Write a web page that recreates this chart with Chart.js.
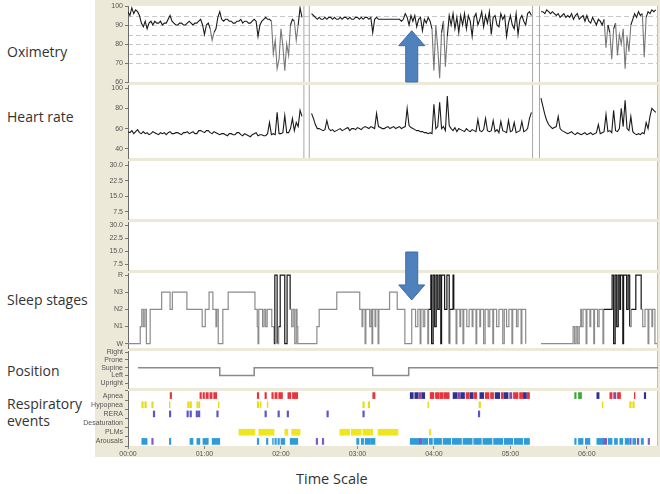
<!DOCTYPE html>
<html>
<head>
<meta charset="utf-8">
<script src="https://cdn.jsdelivr.net/npm/chart.js@4.4.1/dist/chart.umd.min.js"></script>
<style>
  body { margin: 0; width: 660px; height: 494px; overflow: hidden; position: relative; background: #fff; font-family: 'Open Sans', sans-serif; }
  #frame { position: absolute; left: 95px; top: 0; width: 565px; height: 457px; background: #ece9d8; }
  canvas { position: absolute; }
  .lbl { position: absolute; left: 7px; font-size: 14px; line-height: 17px; color: #333; white-space: nowrap; }
</style>
</head>
<body>
<div id="frame"></div>
<div class="lbl" style="top:43px">Oximetry</div>
<div class="lbl" style="top:108px">Heart rate</div>
<div class="lbl" style="top:291px">Sleep stages</div>
<div class="lbl" style="top:362px">Position</div>
<div class="lbl" style="top:395px">Respiratory<br>events</div>
<div class="lbl" style="top:470px;left:296px;font-size:14.5px">Time Scale</div>

<script>
// time axis (hours from lights off)
const hourTicks = [0, 1, 2, 3, 4, 5, 6];
const X_MAX = 6.93;

// oximetry and heart rate, one sample every 0.025 h
const traceStep = 0.025;
const oxiValues = [
  97, 95, 99, 96, 98, 97, 95, 91, 89, 92,
  88, 91, 92, 90, 92, 91, 91, 92, 90, 91,
  91, 93, 95, 92, 91, 90, 90, 91, 91, 90,
  90, 91, 92, 91, 90, 91, 91, 92, 93, 90,
  85, 90, 91, 88, 82, 86, 88, 94, 97, 93,
  92, 93, 93, 92, 92, 91, 91, 92, 92, 93,
  91, 92, 92, 91, 91, 92, 93, 92, 84, 90,
  92, 93, 94, 93, 93, 92, 75, 82, 67, 72,
  88, 79, 66, 80, 74, 90, 93, 92, 82, 90,
  99, 94, null, null, null, null, 96, 95, 94, 93,
  94, 93, 93, 94, 93, 94, 94, 93, 94, 93,
  93, 94, 93, 94, 94, 93, 94, 93, 93, 94,
  94, 93, 94, 93, 94, 94, 93, 94, 86, 93,
  94, 93, 93, 93, 93, 93, 93, 93, 93, 93,
  93, 93, 93, 92, 93, 96, 94, 90, 95, 92,
  95, 89, 93, 94, 87, 93, 91, 94, 92, 88,
  66, 90, 78, 62, 86, 92, 68, 84, 95, 90,
  96, 88, 94, 86, 95, 90, 96, 88, 95, 92,
  84, 94, 96, 90, 93, 97, 89, 95, 91, 97,
  85, 94, 95, 90, 89, 96, 93, 95, 84, 91,
  95, 90, 88, 96, 85, 93, 95, 92, 90, 96,
  97, 95, null, null, null, null, 97, 97, 96, 98,
  97, 96, 97, 96, 95, 96, 94, 95, 96, 94,
  95, 94, 96, 93, 95, 96, 93, 94, 95, 92,
  95, 92, 91, 94, 92, 90, 93, 92, 90, 93,
  78, 90, 86, 72, 88, 91, 74, 85, 80, 88,
  67, 84, 76, 90, 93, 96, 94, 97, 95, 96,
  73, 94, 97, 96, 98, 97, 98
];
const hrValues = [
  57, 56, 58, 55, 57, 59, 56, 55, 57, 55,
  56, 54, 55, 57, 56, 55, 54, 56, 55, 56,
  54, 56, 57, 55, 55, 56, 56, 55, 54, 56,
  56, 57, 55, 56, 57, 55, 55, 58, 58, 57,
  56, 58, 58, 56, 55, 57, 56, 55, 54, 55,
  55, 54, 53, 55, 55, 54, 54, 56, 56, 54,
  53, 55, 54, 53, 52, 54, 55, 56, 53, 54,
  54, 53, 53, 55, 66, 54, 55, 54, 76, 55,
  55, 56, 73, 56, 56, 60, 70, 58, 66, 62,
  78, 72, null, null, null, null, 75, 70, 64, 60,
  60, 59, 58, 59, 68, 60, 58, 59, 57, 58,
  59, 60, 58, 59, 60, 61, 58, 60, 60, 59,
  61, 60, 59, 61, 62, 61, 60, 62, 61, 60,
  75, 62, 61, 60, 60, 61, 62, 60, 61, 62,
  60, 61, 62, 60, 61, 62, 80, 63, 61, 60,
  59, 58, 58, 57, 57, 56, 56, 55, 56, 55,
  84, 60, 62, 86, 60, 62, 58, 92, 63, 60,
  58, 61, 57, 60, 59, 58, 57, 60, 58, 57,
  59, 58, 57, 69, 58, 57, 59, 70, 58, 57,
  58, 68, 57, 59, 56, 67, 58, 57, 56, 68,
  57, 58, 66, 56, 57, 58, 67, 57, 58, 60,
  70, 76, null, null, null, null, 90, 82, 74, 68,
  64, 62, 60, 61, 62, 72, 60, 58, 57, 56,
  55, 56, 57, 55, 54, 56, 55, 54, 55, 56,
  54, 55, 56, 54, 55, 56, 64, 55, 56, 57,
  74, 57, 58, 56, 78, 58, 57, 60, 80, 62,
  88, 60, 58, 72, 57, 55, 54, 55, 54, 56,
  55, 66, 60, 72, 80, 78, 76
];
const breakTimes = [2.30, 2.37, 5.29, 5.38];

const oxiTicks = [60, 70, 80, 90, 100];
const oxiGuides = [95, 90, 85, 80, 75, 70];
const hrTicks = [40, 60, 80, 100];
const emptyTicks = [7.5, 15, 22.5, 30];

// hypnogram: [hour, stage] where 0=W 1=N1 2=N2 3=N3 4=R
const stageNames = ['W', 'N1', 'N2', 'N3', 'R'];
const hypnogram = [
  [0, 0], [0.16, 1], [0.18, 2], [0.20, 1], [0.22, 2], [0.24, 0], [0.29, 2], [0.44, 3], [0.55, 2], [0.58, 3],
  [0.77, 2], [0.97, 1], [1.01, 2], [1.06, 3], [1.11, 2], [1.15, 1], [1.16, 2], [1.18, 0], [1.24, 2], [1.31, 3],
  [1.66, 2], [1.69, 1], [1.70, 0], [1.71, 2], [1.76, 1], [1.78, 2], [1.80, 1], [1.82, 2], [1.88, 1], [1.91, 0],
  [1.92, 4], [1.95, 0], [1.97, 1], [1.99, 4], [2.05, 0], [2.08, 4], [2.12, 2], [2.14, 1], [2.16, 2], [2.18, 0],
  [2.20, 2], [2.21, 1], [2.22, 0], [2.47, 1], [2.50, 2], [2.73, 3], [3.03, 2], [3.06, 1], [3.07, 2], [3.10, 0],
  [3.11, 2], [3.16, 1], [3.18, 2], [3.19, 0], [3.20, 2], [3.23, 1], [3.24, 2], [3.27, 0], [3.28, 2], [3.42, 3],
  [3.52, 2], [3.62, 0], [3.71, 2], [3.76, 1], [3.79, 2], [3.82, 0], [3.83, 2], [3.86, 1], [3.88, 2], [3.92, 0],
  [3.93, 2], [3.96, 4], [3.97, 0], [3.99, 4], [4.01, 1], [4.03, 4], [4.05, 2], [4.07, 4], [4.09, 0], [4.10, 4],
  [4.14, 2], [4.17, 4], [4.20, 0], [4.21, 2], [4.25, 4], [4.26, 2], [4.29, 0], [4.30, 2], [4.34, 1], [4.35, 2],
  [4.38, 0], [4.39, 2], [4.43, 1], [4.46, 2], [4.50, 1], [4.51, 2], [4.55, 0], [4.56, 2], [4.60, 1], [4.61, 2],
  [4.65, 0], [4.67, 2], [4.71, 1], [4.73, 2], [4.77, 0], [4.78, 2], [4.82, 1], [4.85, 2], [4.90, 0], [4.92, 2],
  [4.95, 1], [4.98, 2], [5.02, 0], [5.03, 2], [5.08, 1], [5.10, 2], [5.14, 0], [5.15, 2], [5.20, 0], [5.22, null],
  [5.40, 0], [5.82, 1], [5.84, 0], [5.86, 1], [5.88, 0], [5.90, 1], [5.92, 2], [5.93, 1], [5.95, 2], [5.99, 0],
  [6.00, 2], [6.04, 1], [6.05, 2], [6.09, 0], [6.10, 2], [6.14, 1], [6.16, 2], [6.21, 0], [6.22, 2], [6.33, 4],
  [6.35, 0], [6.37, 4], [6.39, 1], [6.41, 4], [6.43, 2], [6.44, 4], [6.47, 0], [6.48, 4], [6.52, 2], [6.54, 4],
  [6.56, 1], [6.58, 2], [6.64, 4], [6.71, 2], [6.73, 1], [6.76, 2], [6.80, 0], [6.81, 2], [6.85, 1], [6.86, 2],
  [6.89, 0], [6.92, 0]
];

// body position: [hour, position] where 0=Upright 1=Left 2=Supine 3=Prone 4=Right
const positionNames = ['Upright', 'Left', 'Supine', 'Prone', 'Right'];
const positionTrace = [[0.13, 2], [1.20, 1], [1.65, 2], [3.20, 1], [3.67, 2], [6.93, 2]];

// scored events, [start, end] in hours
const eventRows = ['Apnea', 'Hypopnea', 'RERA', 'Desaturation', 'PLMs', 'Arousals'];
const obstructiveApnea = [[0.55, 0.57], [0.94, 0.96], [0.98, 1.00], [1.02, 1.05], [1.07, 1.10], [1.12, 1.16],
  [1.69, 1.71], [1.79, 1.81], [1.88, 1.90], [1.92, 1.95], [1.97, 2.02], [2.09, 2.13], [2.15, 2.22], [3.20, 3.23],
  [3.95, 4.00], [4.02, 4.07], [4.08, 4.12], [4.13, 4.20], [4.42, 4.46], [4.52, 4.56], [4.67, 4.72], [4.74, 4.78],
  [4.88, 4.91], [5.04, 5.10], [5.12, 5.16], [5.22, 5.25], [6.30, 6.33], [6.40, 6.44], [6.62, 6.63]];
const centralApnea = [[3.69, 3.73], [3.75, 3.79], [3.84, 3.88], [4.25, 4.30], [4.35, 4.40], [4.47, 4.51],
  [4.60, 4.65], [4.80, 4.86], [4.92, 4.97], [5.17, 5.21], [6.13, 6.16], [6.75, 6.77]];
const mixedApnea = [[3.80, 3.83], [3.97, 3.98], [4.31, 4.34], [4.99, 5.02], [6.35, 6.38]];
const otherApnea = [[5.84, 5.86], [5.89, 5.93]];
const hypopnea = [[0.18, 0.20], [0.22, 0.24], [0.31, 0.33], [0.54, 0.55], [0.78, 0.80], [0.81, 0.83],
  [0.90, 0.92], [0.93, 0.94], [1.18, 1.19], [1.69, 1.71], [1.73, 1.74], [1.82, 1.83], [3.07, 3.09],
  [3.14, 3.16], [3.92, 3.93], [4.59, 4.61], [6.20, 6.21], [6.56, 6.58], [6.60, 6.62]];
const rera = [[0.33, 0.35], [0.54, 0.56], [0.77, 0.79], [0.81, 0.83], [0.89, 0.91], [0.92, 0.94], [1.16, 1.18],
  [1.79, 1.81], [1.96, 1.98], [2.08, 2.10], [2.60, 2.62], [3.07, 3.09], [4.58, 4.60]];
const desaturation = [];
const plm = [[1.45, 1.66], [1.71, 1.91], [2.05, 2.09], [2.14, 2.25], [2.77, 2.90], [2.92, 3.05], [3.07, 3.16],
  [3.17, 3.20], [3.27, 3.53], [3.94, 3.96]];
const arousal = [[0.18, 0.25], [0.54, 0.56], [0.81, 0.85], [0.90, 0.94], [0.98, 1.05], [1.10, 1.20], [1.69, 1.71],
  [1.81, 1.83], [1.89, 1.90], [1.92, 1.94], [1.96, 1.98], [2.00, 2.05], [2.12, 2.22], [2.99, 3.02], [3.05, 3.08],
  [3.10, 3.16], [3.17, 3.23], [3.69, 3.80], [3.85, 3.92], [3.94, 3.98], [4.00, 4.10], [4.12, 4.22], [4.24, 4.36],
  [4.38, 4.50], [4.52, 4.62], [4.64, 4.76], [4.78, 4.90], [4.92, 5.03], [5.05, 5.16], [5.18, 5.25], [5.84, 5.86],
  [5.89, 5.95], [5.98, 6.04], [6.13, 6.21], [6.28, 6.33], [6.36, 6.40], [6.43, 6.47], [6.50, 6.55], [6.60, 6.64],
  [6.71, 6.74]];
const plmArousal = [[0.31, 0.33], [2.46, 2.48], [2.54, 2.56], [3.80, 3.84], [6.21, 6.26], [6.56, 6.58],
  [6.66, 6.68], [6.80, 6.82]];

const arrowTime = 3.71;

// ---------- layout ----------
Chart.defaults.font.family = "'Liberation Sans', Arial, sans-serif";
Chart.defaults.font.size = 7;
Chart.defaults.color = '#555';

const CANVAS_LEFT = 80, PLOT_LEFT = 128, PLOT_RIGHT = 658, PAD = 8;
const canvasTop = {};

function panelCanvas(name, top, bottom, below) {
  const c = document.createElement('canvas');
  c.width = 660 - CANVAS_LEFT;
  c.height = bottom - top + PAD + below;
  c.style.left = CANVAS_LEFT + 'px';
  c.style.top = (top - PAD) + 'px';
  document.body.appendChild(c);
  canvasTop[name] = top - PAD;
  return c;
}

function plotBg(guides) {
  return {
    id: 'plotBg',
    beforeDraw(chart) {
      const { ctx, chartArea: a } = chart;
      ctx.save();
      ctx.fillStyle = '#fff';
      ctx.fillRect(a.left, a.top, a.width, a.height);
      ctx.strokeStyle = '#c4c1b0';
      ctx.lineWidth = 1;
      ctx.beginPath();
      ctx.moveTo(a.right - 0.5, a.top);
      ctx.lineTo(a.right - 0.5, a.bottom);
      ctx.stroke();
      if (guides) {
        const y = chart.scales.y;
        ctx.strokeStyle = '#c8c8c8';
        ctx.setLineDash([5, 3]);
        guides.forEach(v => {
          const py = Math.round(y.getPixelForValue(v)) + 0.5;
          ctx.beginPath();
          ctx.moveTo(a.left, py);
          ctx.lineTo(a.right, py);
          ctx.stroke();
        });
      }
      ctx.restore();
    }
  };
}

function yAxis(min, max, ticks, label) {
  return {
    min, max,
    afterFit: s => { s.width = PLOT_LEFT - CANVAS_LEFT; },
    afterBuildTicks: s => { s.ticks = ticks.map(v => ({ value: v })); },
    ticks: { autoSkip: false, padding: 2, color: '#555', callback: label || (v => v) },
    grid: { drawOnChartArea: false, tickLength: 3, tickColor: '#777' },
    border: { color: '#6a6a6a' }
  };
}

function baseOptions(y) {
  return {
    responsive: false,
    animation: false,
    devicePixelRatio: 1,
    layout: { padding: { top: PAD, bottom: PAD, left: 0, right: 660 - PLOT_RIGHT } },
    plugins: { legend: { display: false }, tooltip: { enabled: false } },
    scales: {
      x: { type: 'linear', min: 0, max: X_MAX, display: false },
      y: y
    }
  };
}

function traceData(values) {
  return values.map((v, i) => ({ x: i * traceStep, y: v }));
}

function breakLines(lo, hi) {
  return breakTimes.flatMap(t => [{ x: t, y: lo }, { x: t, y: hi }, { x: t, y: null }]);
}

function stepData(pairs) {
  return pairs.map(([t, v]) => ({ x: t, y: v }));
}

// oximetry
const oxiChart = new Chart(panelCanvas('oxi', 6, 82, PAD), {
  type: 'line',
  data: {
    datasets: [
      { data: breakLines(60, 100), borderColor: '#a8a8a8', borderWidth: 1, pointRadius: 0 },
      {
        data: traceData(oxiValues), borderColor: '#1b1b1b', borderWidth: 1.1, pointRadius: 0,
        segment: { borderColor: c => Math.min(c.p0.parsed.y, c.p1.parsed.y) < 84 ? '#777' : undefined }
      }
    ]
  },
  options: baseOptions(yAxis(60, 100, oxiTicks)),
  plugins: [plotBg(oxiGuides)]
});

// heart rate
new Chart(panelCanvas('hr', 85, 158, PAD), {
  type: 'line',
  data: {
    datasets: [
      { data: breakLines(31, 103), borderColor: '#a8a8a8', borderWidth: 1, pointRadius: 0 },
      { data: traceData(hrValues), borderColor: '#1b1b1b', borderWidth: 1.1, pointRadius: 0 }
    ]
  },
  options: baseOptions(yAxis(31, 103, hrTicks)),
  plugins: [plotBg()]
});

// two empty channels
new Chart(panelCanvas('e1', 161, 219, PAD), {
  type: 'line',
  data: { datasets: [] },
  options: baseOptions(yAxis(4, 32, emptyTicks, v => v.toFixed(1))),
  plugins: [plotBg()]
});
const emptyChart = new Chart(panelCanvas('e2', 222, 270, PAD), {
  type: 'line',
  data: { datasets: [] },
  options: baseOptions(yAxis(4, 32, emptyTicks, v => v.toFixed(1))),
  plugins: [plotBg()]
});

// sleep stages
const sleepChart = new Chart(panelCanvas('sleep', 273, 348, PAD), {
  type: 'line',
  data: {
    datasets: [{
      data: stepData(hypnogram), stepped: true, borderWidth: 1.2, pointRadius: 0,
      borderColor: '#8c8c8c',
      segment: { borderColor: c => (c.p0.parsed.y === 4 || c.p1.parsed.y === 4) ? '#151515' : undefined }
    }]
  },
  options: baseOptions(yAxis(-0.25, 4.12, [0, 1, 2, 3, 4], v => stageNames[v])),
  plugins: [plotBg()]
});

// position
new Chart(panelCanvas('pos', 351, 388, PAD), {
  type: 'line',
  data: {
    datasets: [{ data: stepData(positionTrace), stepped: true, borderColor: '#8a8a8a', borderWidth: 1.5, pointRadius: 0 }]
  },
  options: baseOptions(yAxis(-0.6, 4.15, [0, 1, 2, 3, 4], v => positionNames[v])),
  plugins: [plotBg()]
});

// respiratory events, floating bars on one row each
function eventSet(label, row, list, color) {
  return {
    label,
    data: list.map(([a, b]) => ({ x: [a, b], y: row })),
    backgroundColor: color,
    grouped: false,
    barThickness: 6
  };
}

const evOptions = baseOptions({
  type: 'category',
  afterFit: s => { s.width = PLOT_LEFT - CANVAS_LEFT; },
  ticks: { autoSkip: false, padding: 2, color: '#555' },
  grid: { drawOnChartArea: false, tickLength: 3, tickColor: '#777' },
  border: { color: '#6a6a6a' }
});
evOptions.indexAxis = 'y';
evOptions.layout.padding.bottom = 0;
evOptions.scales.x = {
  type: 'linear', min: 0, max: X_MAX,
  afterFit: s => { s.height = 16; },
  afterBuildTicks: s => { s.ticks = hourTicks.map(v => ({ value: v })); },
  ticks: { padding: 1, color: '#555', callback: v => '0' + v + ':00' },
  grid: { drawOnChartArea: false, tickLength: 3, tickColor: '#888' },
  border: { display: false }
};

new Chart(panelCanvas('events', 391, 446, 16), {
  type: 'bar',
  data: {
    labels: eventRows,
    datasets: [
      eventSet('Obstructive apnea', 'Apnea', obstructiveApnea, '#e8323c'),
      eventSet('Central apnea', 'Apnea', centralApnea, '#2e3192'),
      eventSet('Mixed apnea', 'Apnea', mixedApnea, '#8e4aa0'),
      eventSet('Apnea', 'Apnea', otherApnea, '#3aa935'),
      eventSet('Hypopnea', 'Hypopnea', hypopnea, '#eadb10'),
      eventSet('RERA', 'RERA', rera, '#5c55c2'),
      eventSet('Desaturation', 'Desaturation', desaturation, '#888'),
      eventSet('PLMs', 'PLMs', plm, '#f0e620'),
      eventSet('Arousal', 'Arousals', arousal, '#2f9bd8'),
      eventSet('PLM arousal', 'Arousals', plmArousal, '#7a5cc2')
    ]
  },
  options: evOptions,
  plugins: [plotBg()]
});

// blue arrows marking the event cluster
const overlay = document.createElement('canvas');
overlay.width = 660;
overlay.height = 494;
overlay.style.left = '0px';
overlay.style.top = '0px';
document.body.appendChild(overlay);

function drawArrow(ctx, x, yTail, yTip) {
  const dir = Math.sign(yTip - yTail);
  const neck = yTip - dir * 15;
  ctx.beginPath();
  ctx.moveTo(x - 6, yTail);
  ctx.lineTo(x - 6, neck);
  ctx.lineTo(x - 13, neck);
  ctx.lineTo(x, yTip);
  ctx.lineTo(x + 13, neck);
  ctx.lineTo(x + 6, neck);
  ctx.lineTo(x + 6, yTail);
  ctx.closePath();
  ctx.fillStyle = '#4f81bd';
  ctx.fill();
  ctx.strokeStyle = '#3c6ca6';
  ctx.lineWidth = 1;
  ctx.stroke();
}

const octx = overlay.getContext('2d');
const ax = CANVAS_LEFT + oxiChart.scales.x.getPixelForValue(arrowTime);
drawArrow(octx, ax,
  canvasTop.oxi + oxiChart.scales.y.getPixelForValue(60),
  canvasTop.oxi + oxiChart.scales.y.getPixelForValue(87));
drawArrow(octx, ax,
  canvasTop.e2 + emptyChart.scales.y.getPixelForValue(14.5),
  canvasTop.sleep + sleepChart.scales.y.getPixelForValue(2.55));
</script>
</body>
</html>
